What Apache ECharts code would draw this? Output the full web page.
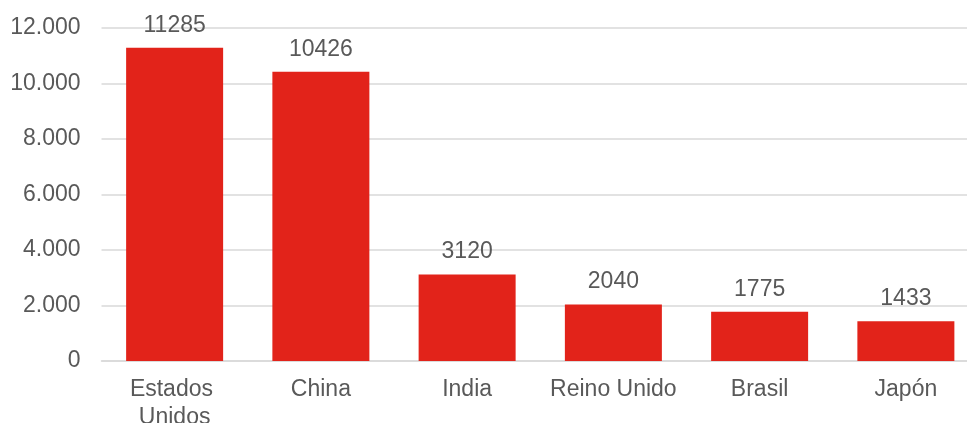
<!DOCTYPE html>
<html>
<head>
<meta charset="utf-8">
<script src="https://cdn.jsdelivr.net/npm/echarts@6/dist/echarts.min.js"></script>
<style>
  html, body { margin: 0; padding: 0; background: #fff; }
  #chart { width: 967px; height: 423px; }
</style>
</head>
<body>
<div id="chart"></div>
<script>
const countries = ['Estados Unidos', 'China', 'India', 'Reino Unido', 'Brasil', 'Japón']
const values = [11285, 10426, 3120, 2040, 1775, 1433]

const textColor = '#595959'
const fontFamily = 'Liberation Sans, Arial, sans-serif'

const chart = echarts.init(document.getElementById('chart'))
chart.setOption({
  animation: false,
  grid: { left: 101.5, right: -12, top: 28, bottom: 62, outerBoundsMode: 'none', containLabel: false },
  xAxis: {
    type: 'category',
    data: countries,
    axisLine: { lineStyle: { color: '#D9D9D9', width: 1.5 } },
    axisTick: { show: false },
    axisLabel: {
      color: textColor, fontSize: 23, fontFamily, margin: 15, interval: 0,
      width: 140, overflow: 'break', lineHeight: 28, hideOverlap: false
    }
  },
  yAxis: {
    type: 'value',
    min: 0, max: 12000, interval: 2000,
    axisLine: { show: false },
    axisTick: { show: false },
    splitLine: { lineStyle: { color: '#D9D9D9', width: 1.5 } },
    axisLabel: {
      color: textColor, fontSize: 23, fontFamily, margin: 21,
      formatter: v => String(v).replace(/\B(?=(\d{3})+(?!\d))/g, '.')
    }
  },
  series: [{
    type: 'bar',
    data: values,
    barWidth: 97,
    itemStyle: { color: '#E2231A' },
    label: {
      show: true, position: 'top', distance: 11,
      color: textColor, fontSize: 23, fontFamily
    }
  }]
})
</script>
</body>
</html>
